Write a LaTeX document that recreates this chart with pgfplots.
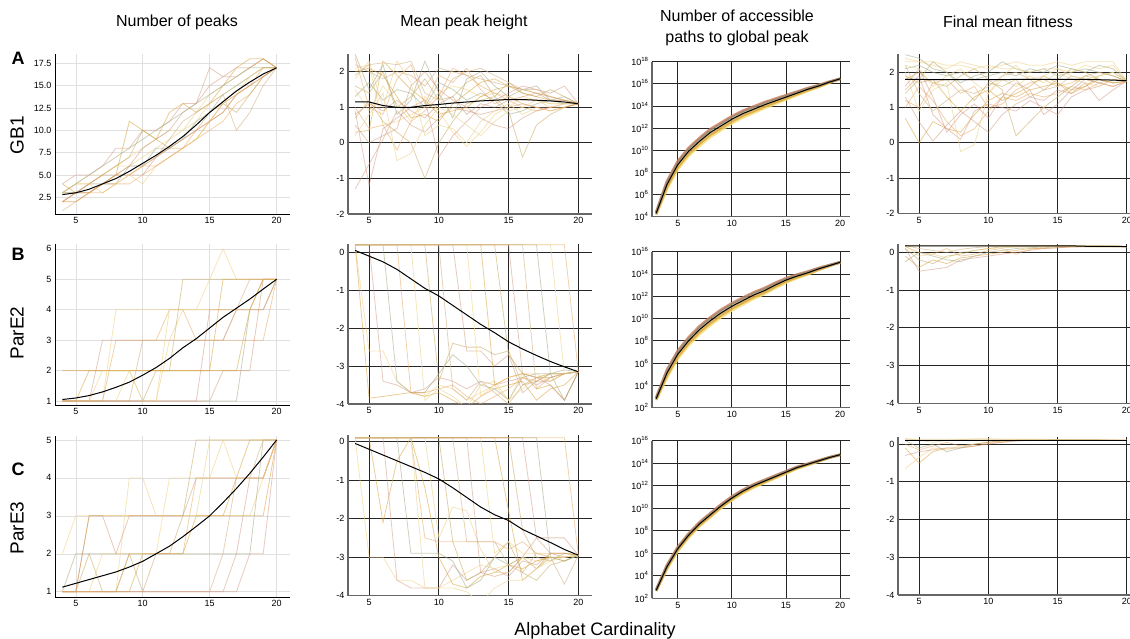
\documentclass[border=0pt]{standalone}
\usepackage{pgfplots}
\usepackage{pgfplotstable}
\pgfplotsset{compat=1.18}
\usepackage{fontspec}
\setmainfont{Liberation Sans}

\definecolor{p1}{HTML}{F2D38A}
\definecolor{p2}{HTML}{D9A441}
\definecolor{p3}{HTML}{D2937F}
\definecolor{p4}{HTML}{A3AA86}
\definecolor{p5}{HTML}{E6A25A}
\definecolor{p6}{HTML}{EDD9A0}
\definecolor{p7}{HTML}{C7AA62}
\definecolor{p8}{HTML}{D6B48A}
\definecolor{p9}{HTML}{C98A6A}

\pgfplotscreateplotcyclelist{faint}{
{p1,line width=0.8pt,opacity=0.6},
{p2,line width=0.8pt,opacity=0.55},
{p3,line width=0.8pt,opacity=0.5},
{p4,line width=0.8pt,opacity=0.55},
{p5,line width=0.8pt,opacity=0.5},
{p6,line width=0.8pt,opacity=0.7},
{p7,line width=0.8pt,opacity=0.55},
{p8,line width=0.8pt,opacity=0.6},
{p9,line width=0.8pt,opacity=0.45}}

\pgfplotsset{
 base/.style={scale only axis, anchor=south west, axis x line=bottom, axis y line=left,
   axis line style={-}, cycle list name=faint,
   tick label style={font=\fontsize{9}{10}\selectfont},
   /pgf/number format/assume math mode=true, major tick length=0pt,
   xtick={5,10,15,20}, enlargelimits=false, grid=major},
 gr/.style={base, major grid style={black!12, line width=0.5pt}, axis line style={black, line width=0.8pt}},
 mat/.style={base, major grid style={black!85, line width=0.9pt}, axis line style={black!60, line width=1.4pt}},
 band/.style={line width=2.6pt, opacity=0.85},
}

% first data row of every table holds the x values; after transposing,
% column 1 is x and columns 2.. are the series
\newcommand{\faintlines}[2]{\pgfplotsinvokeforeach{2,...,#2}{\addplot table[x index=1,y index=##1]{#1};}}

% ---------- Row 1 (GB1) ----------
\pgfplotstableread[header=false]{
4 5 6 7 8 9 10 11 12 13 14 15 16 17 18 19 20
3 4 4 5 6 6 7 8 9 10 11 13 14 15 16 17 17
2 3 3 4 5 5 6 7 8 8 9 11 12 14 15 16 17
4 5 5 6 8 8 10 10 11 13 13 15 16 16 17 18 17
3 3 4 4 4 6 6 8 8 9 11 12 14 15 16 17 17
2 2 3 4 4 5 6 6 7 8 9 10 11 13 14 16 17
3 4 5 5 6 7 8 9 10 10 12 14 15 16 17 18 17
3 3 4 5 6 7 10 9 8 9 10 12 13 12 14 16 17
1 2 3 4 5 6 6 7 9 11 12 13 14 10 12 15 17
2 3 4 5 5 6 8 9 10 12 13 17 16 17 17 18 17
3 4 4 3 4 5 4 6 7 8 9 11 13 14 16 17 17
4 3 3 4 5 11 10 9 12 13 12 13 15 17 18 18 17
2 3 3 4 5 5 5 7 8 9 10 11 12 14 15 16 17
3 4 5 6 7 8 9 10 11 12 13 14 15 16 17 17 17
2 2 3 3 4 4 5 6 7 8 10 11 13 14 15 17 17
}\ra
\pgfplotstabletranspose{\ta}{\ra}

\pgfplotstableread[header=false]{
4 5 6 7 8 9 10 11 12 13 14 15 16 17 18 19 20
2.1 2.2 0.5 0.6 0.8 1.0 1.4 1.6 1.5 1.3 1.4 1.3 1.2 1.2 1.1 1.1 1.1
0.3 0.35 2.3 1.9 1.5 1.2 0.8 0.9 1.0 1.3 1.5 1.6 1.5 1.4 1.3 1.2 1.1
-1.3 -0.6 0.1 0.9 0.5 0.3 0.7 1.0 0.9 0.8 0.9 1.0 1.1 1.0 1.0 1.1 1.1
2.5 1.5 2.2 0.8 1.2 2.3 1.4 0.7 1.8 2.0 1.6 1.3 1.5 1.6 1.2 1.3 1.1
1.0 0.4 0.5 -0.2 0.6 0.9 1.3 2.1 1.9 1.6 1.4 1.2 1.0 0.9 1.0 1.0 1.1
1.8 2.3 1.0 2.3 1.7 0.2 0.5 0.4 0.0 0.6 0.9 1.1 0.8 1.0 0.9 1.0 1.1
0.7 1.2 0.6 0.3 0.0 -1.0 0.0 0.6 1.1 1.2 1.3 0.9 -0.4 0.5 0.8 1.0 1.1
2.2 2.0 1.8 2.0 1.9 1.6 2.1 2.0 1.9 1.8 1.7 1.6 1.5 1.4 1.3 1.2 1.1
0.5 0.0 0.2 0.4 1.6 2.0 1.5 1.2 1.0 0.7 0.5 0.4 0.7 0.9 1.0 1.0 1.1
1.5 0.9 1.6 1.1 0.6 1.3 0.9 0.3 -0.1 0.3 0.8 1.0 1.3 1.2 1.1 1.1 1.1
2.0 2.1 1.9 1.3 0.7 0.8 0.6 1.1 1.4 1.7 1.8 1.6 1.4 1.3 1.2 1.2 1.1
0.9 -1.2 0.4 0.7 1.0 1.2 -0.4 0.2 0.6 1.0 1.2 1.4 1.6 1.5 1.4 1.6 1.1
1.3 1.7 1.2 1.5 1.4 1.0 1.7 1.5 1.2 1.4 1.2 0.8 0.9 1.1 1.2 1.1 1.1
2.4 1.0 0.8 1.8 2.2 1.1 1.9 1.7 2.1 1.5 1.1 1.3 1.1 1.0 0.9 1.0 1.1
0.2 0.8 1.4 -0.5 -0.3 0.5 1.0 0.8 0.5 0.2 0.6 0.9 1.0 1.2 1.0 1.1 1.1
1.6 1.4 2.0 1.0 1.3 1.8 1.2 1.3 1.7 1.9 1.3 1.7 1.4 1.3 1.5 1.3 1.1
1.9 2.2 2.25 2.2 2.3 1.4 1.2 1.8 2.0 2.1 1.9 1.7 1.5 1.5 1.3 1.2 1.1
0.8 1.1 0.9 1.2 0.9 0.7 1.1 1.3 0.8 1.1 1.0 1.2 1.3 1.4 1.2 1.2 1.1
}\rb
\pgfplotstabletranspose{\tb}{\rb}

\pgfplotstableread[header=false]{
3 4 5 6 7 8 9 10 11 12 13 14 15 16 17 18 19 20
4.3 6.9 8.7 9.9 10.8 11.6 12.2 12.8 13.3 13.7 14.1 14.45 14.8 15.15 15.5 15.8 16.15 16.45
4.39 7.2 9.0 10.2 11.1 11.9 12.49 13.07 13.56 13.94 14.33 14.65 14.97 15.29 15.61 15.88 16.19 16.45
4.18 6.5 8.3 9.5 10.4 11.2 11.82 12.44 12.96 13.38 13.8 14.19 14.58 14.97 15.36 15.7 16.1 16.45
4.24 6.7 8.5 9.7 10.6 11.4 12.01 12.62 13.13 13.54 13.95 14.32 14.69 15.06 15.43 15.75 16.13 16.45
4.35 7.05 8.85 10.05 10.95 11.75 12.34 12.94 13.43 13.82 14.21 14.55 14.88 15.22 15.55 15.84 16.17 16.45
}\rc
\pgfplotstabletranspose{\tc}{\rc}

\pgfplotstableread[header=false]{
4 5 6 7 8 9 10 11 12 13 14 15 16 17 18 19 20
2.3 2.3 2.2 2.1 2.3 2.2 2.1 2.2 2.3 2.2 2.2 2.3 2.2 2.3 2.3 2.3 1.75
0.7 0.0 0.6 0.4 0.3 0.8 1.2 1.4 1.3 1.5 1.6 1.7 1.5 1.6 1.8 1.7 1.75
1.5 1.9 0.8 0.4 0.1 0.9 1.1 1.0 0.9 1.2 1.0 0.8 1.3 1.5 1.6 1.8 1.75
2.5 2.4 2.1 2.0 1.7 1.9 2.0 2.3 2.1 2.0 2.1 1.9 2.0 2.1 2.0 1.9 1.75
1.0 1.6 1.2 0.6 0.2 0.4 0.9 1.3 1.2 1.4 1.3 1.4 1.6 1.5 1.7 1.6 1.75
2.0 0.9 1.5 1.7 -0.25 -0.05 1.4 1.8 1.6 1.9 1.7 2.0 1.8 1.7 1.6 1.8 1.75
1.8 2.0 1.7 1.6 1.9 2.1 1.8 1.5 0.2 0.6 1.0 1.3 1.6 1.9 2.0 1.9 1.75
2.2 1.4 0.9 1.2 1.5 1.4 1.6 1.9 2.0 1.8 1.5 1.6 1.9 1.8 1.7 1.8 1.75
1.3 0.6 0.05 0.5 0.9 0.6 0.3 0.8 1.1 1.3 1.2 1.5 1.4 1.7 1.2 1.5 1.75
2.4 2.3 2.3 2.2 2.2 2.1 2.2 2.1 2.1 2.0 2.1 2.1 2.0 2.2 2.1 2.2 1.75
1.9 1.7 1.8 1.3 0.9 1.3 1.5 1.2 1.4 1.6 1.9 1.7 1.4 1.6 1.9 2.0 1.75
1.6 2.1 1.3 0.3 0.8 1.1 0.7 1.3 1.7 1.5 0.8 1.1 1.5 1.8 1.7 1.6 1.75
2.1 2.2 2.0 1.9 2.0 1.8 1.9 2.0 1.9 2.1 2.0 2.2 2.1 2.0 2.2 2.1 1.75
1.2 1.0 1.7 1.8 1.4 1.6 1.0 1.1 1.5 1.7 1.8 1.6 1.7 1.9 1.8 1.7 1.75
2.2 2.1 1.6 1.9 2.1 1.7 1.4 1.9 2.2 1.8 1.9 2.1 1.9 1.8 1.9 2.0 1.75
1.4 1.8 2.3 2.0 1.6 1.2 1.7 1.6 1.8 1.3 1.5 1.8 2.1 2.0 1.8 1.7 1.75
}\rd
\pgfplotstabletranspose{\td}{\rd}

% ---------- Row 2 (ParE2) ----------
\pgfplotstableread[header=false]{
4 5 6 7 8 9 10 11 12 13 14 15 16 17 18 19 20
1 1 1 1 4 4 4 4 4 4 4 5 6 5 5 5 5
2 2 2 2 2 2 2 2 2 2 2 2 5 5 5 5 5
1 1 1 3 3 3 3 3 3 3 3 3 3 4 4 5 5
1 1 1 1 1 1 1 1 1 1 1 1 1 1 4 4 5
1 1 1 1 3 3 3 3 4 4 3 3 3 3 3 3 5
1 1 1 1 1 2 1 1 3 4 4 4 4 4 4 4 5
1 1 1 1 1 1 1 2 2 5 5 5 5 5 5 5 5
1 1 1 1 1 1 3 3 3 3 3 3 3 4 5 5 5
1 1 1 1 1 1 1 1 1 1 1 1 2 2 2 5 5
1 1 1 2 2 2 1 1 4 4 4 4 4 4 4 5 5
1 1 2 2 2 2 2 2 2 2 2 2 2 2 4 5 5
1 1 1 1 1 1 1 1 1 1 1 4 4 4 4 4 5
}\re
\pgfplotstabletranspose{\te}{\re}

\pgfplotstableread[header=false]{
4 5 6 7 8 9 10 11 12 13 14 15 16 17 18 19 20
0.2 -2.6 -2.6 -3.4 -3.7 -3.8 -3.5 -3.6 -3.9 -3.7 -3.5 -3.3 -3.2 -3.3 -3.2 -3.2 -3.15
0.2 -3.85 -3.8 -3.75 -3.7 -3.8 -3.7 -3.9 -4.1 -3.8 -3.6 -3.5 -3.4 -3.9 -3.6 -3.5 -3.15
0.2 0.2 -3.4 -3.5 -3.7 -3.6 -3.3 -3.4 -3.6 -3.4 -3.5 -3.4 -3.3 -3.5 -3.3 -3.2 -3.15
0.2 0.2 0.2 -3.4 -3.7 -3.7 -3.2 -2.7 -3.0 -3.5 -3.6 -3.9 -3.3 -3.2 -3.2 -3.1 -3.15
0.2 0.2 0.2 0.2 -3.7 -3.7 -3.6 -3.5 -3.8 -4.0 -3.8 -3.6 -3.3 -3.4 -3.2 -3.2 -3.15
0.2 0.2 0.2 0.2 0.2 -3.9 -3.6 -3.8 -4.1 -3.5 -3.4 -3.9 -3.6 -3.3 -3.4 -3.2 -3.15
0.2 0.2 0.2 0.2 0.2 0.2 -3.4 -2.4 -2.5 -2.5 -2.7 -2.6 -3.5 -3.4 -3.2 -3.2 -3.15
0.2 0.2 0.2 0.2 0.2 0.2 0.2 -3.6 -3.9 -3.4 -3.7 -4.0 -3.5 -3.3 -3.2 -3.2 -3.15
0.2 0.2 0.2 0.2 0.2 0.2 0.2 0.2 -2.6 -2.6 -3.0 -2.7 -3.7 -3.4 -3.4 -3.2 -3.15
0.2 0.2 0.2 0.2 0.2 0.2 0.2 0.2 0.2 -3.8 -3.5 -3.9 -3.2 -3.2 -3.4 -3.2 -3.15
0.2 0.2 0.2 0.2 0.2 0.2 0.2 0.2 0.2 0.2 -3.5 -3.3 -3.2 -3.6 -3.5 -3.9 -3.15
0.2 0.2 0.2 0.2 0.2 0.2 0.2 0.2 0.2 0.2 0.2 0.2 -3.2 -3.3 -3.5 -3.9 -3.15
0.2 0.2 0.2 0.2 0.2 0.2 0.2 0.2 0.2 0.2 0.2 0.2 0.2 0.2 -3.2 -3.9 -3.15
0.2 0.2 0.2 0.2 0.2 0.2 0.2 0.2 0.2 0.2 0.2 0.2 0.2 0.2 0.2 0.2 -3.15
0.2 0.2 0.2 0.2 0.2 0.2 0.2 0.2 0.2 0.2 0.2 0.2 0.2 0.2 0.2 -3.2 -3.15
0.2 0.2 0.2 0.2 0.2 0.2 0.2 0.2 0.2 0.2 0.2 -2.7 -3.2 -3.3 -3.3 -3.2 -3.15
0.2 0.2 0.2 0.2 0.2 0.2 0.2 0.2 0.2 0.2 0.2 0.2 0.2 -3.6 -3.3 -3.2 -3.15
}\rf
\pgfplotstabletranspose{\tf}{\rf}

\pgfplotstableread[header=false]{
3 4 5 6 7 8 9 10 11 12 13 14 15 16 17 18 19 20
2.8 5.1 6.8 8.0 9.0 9.8 10.5 11.1 11.6 12.1 12.5 13.0 13.45 13.8 14.1 14.45 14.75 15.05
2.89 5.4 7.1 8.3 9.3 10.1 10.79 11.37 11.86 12.34 12.73 13.2 13.62 13.94 14.21 14.53 14.79 15.05
2.68 4.7 6.4 7.6 8.6 9.4 10.12 10.74 11.26 11.78 12.2 12.74 13.23 13.62 13.96 14.35 14.7 15.05
2.74 4.9 6.6 7.8 8.8 9.6 10.31 10.92 11.43 11.94 12.35 12.87 13.34 13.71 14.03 14.4 14.73 15.05
2.85 5.25 6.95 8.15 9.15 9.95 10.64 11.24 11.73 12.22 12.61 13.1 13.53 13.87 14.15 14.49 14.77 15.05
}\rg
\pgfplotstabletranspose{\tg}{\rg}

\pgfplotstableread[header=false]{
4 5 6 7 8 9 10 11 12 13 14 15 16 17 18 19 20
0.18 0.18 0.17 0.18 0.18 0.18 0.18 0.18 0.18 0.18 0.18 0.18 0.18 0.18 0.18 0.18 0.15
-0.1 -0.4 -0.2 -0.3 -0.15 -0.1 -0.05 0.0 0.05 0.1 0.1 0.12 0.15 0.15 0.15 0.15 0.15
0.1 -0.5 -0.45 -0.4 -0.2 -0.15 -0.1 -0.05 0.0 0.05 0.1 0.12 0.14 0.15 0.15 0.15 0.15
-0.25 0.0 -0.1 -0.2 -0.25 -0.1 0.0 0.05 0.1 0.12 0.14 0.15 0.15 0.15 0.15 0.15 0.15
0.15 0.0 -0.05 0.1 -0.1 -0.05 0.05 0.1 -0.05 0.08 0.12 0.15 0.15 0.16 0.15 0.15 0.15
0.18 -0.1 -0.05 -0.15 0.0 0.05 0.1 0.12 0.14 0.16 0.17 0.17 0.17 0.17 0.17 0.16 0.15
0.1 -0.2 -0.3 -0.1 -0.05 0.05 0.1 0.15 0.15 0.15 0.16 0.17 0.17 0.16 0.16 0.15 0.15
0.18 0.1 0.05 0.0 0.08 0.12 0.15 0.16 0.16 0.16 0.17 0.17 0.17 0.16 0.16 0.15 0.15
}\rh
\pgfplotstabletranspose{\th}{\rh}

% ---------- Row 3 (ParE3) ----------
\pgfplotstableread[header=false]{
4 5 6 7 8 9 10 11 12 13 14 15 16 17 18 19 20
2 3 3 3 3 3 3 3 3 3 3 3 3 3 3 4 5
1 1 3 3 3 3 3 3 3 3 3 3 3 3 3 3 5
1 1 1 1 1 1 1 1 1 1 1 1 1 2 4 4 5
1 2 2 2 2 2 2 2 2 2 2 2 2 2 2 5 5
1 1 1 1 1 2 2 2 2 2 4 4 4 4 4 4 5
1 1 1 1 1 4 4 3 3 3 3 5 5 5 5 5 5
1 1 2 1 1 2 1 2 2 3 5 5 5 5 5 5 5
1 1 1 1 1 1 1 1 1 1 1 1 2 4 4 5 5
1 1 3 3 2 3 3 3 3 3 4 4 4 4 4 4 5
1 1 1 2 2 2 2 2 4 4 4 4 5 4 4 4 5
1 1 1 1 1 1 2 2 2 2 3 3 3 4 5 5 5
1 1 1 1 1 1 1 1 1 1 1 1 1 1 2 2 5
}\ri
\pgfplotstabletranspose{\ti}{\ri}

\pgfplotstableread[header=false]{
4 5 6 7 8 9 10 11 12 13 14 15 16 17 18 19 20
0.1 -3.0 -3.0 -3.6 -3.6 -3.8 -3.8 -3.6 -3.4 -3.2 -3.3 -3.2 -3.0 -3.1 -3.0 -3.0 -2.95
0.1 0.1 -2.1 -0.5 0.1 -1.2 -3.0 -3.7 -3.8 -3.5 -3.4 -3.2 -3.3 -3.1 -3.0 -3.1 -2.95
0.1 0.1 0.1 -3.6 -3.8 -3.8 -3.8 -3.2 -3.6 -3.4 -3.3 -3.5 -3.1 -3.2 -2.9 -3.0 -2.95
0.1 0.1 0.1 0.1 -2.9 -2.9 -2.9 -3.1 -3.8 -3.6 -3.0 -3.2 -3.0 -3.3 -3.0 -3.0 -2.95
0.1 0.1 0.1 0.1 0.1 -2.5 -2.6 -2.6 -2.6 -2.6 -2.6 -2.8 -2.6 -2.9 -2.9 -2.9 -2.95
0.1 0.1 0.1 0.1 0.1 0.1 -2.5 -1.7 -1.8 -2.8 -3.4 -3.4 -3.0 -3.3 -3.0 -3.0 -2.95
0.1 0.1 0.1 0.1 0.1 0.1 0.1 -2.6 -3.6 -3.4 -3.0 -2.6 -3.4 -3.6 -3.2 -3.1 -2.95
0.1 0.1 0.1 0.1 0.1 0.1 0.1 0.1 -2.6 -2.6 -2.6 -3.2 -3.4 -2.9 -3.0 -3.7 -2.95
0.1 0.1 0.1 0.1 0.1 0.1 0.1 0.1 0.1 -3.4 -3.5 -3.4 -3.0 -2.5 -2.5 -2.5 -2.95
0.1 0.1 0.1 0.1 0.1 0.1 0.1 0.1 0.1 0.1 -2.9 -2.6 -2.9 -2.9 -3.0 -3.0 -2.95
0.1 0.1 0.1 0.1 0.1 0.1 0.1 0.1 0.1 0.1 0.1 -1.8 -3.6 -3.3 -2.9 -2.9 -2.95
0.1 0.1 0.1 0.1 0.1 0.1 0.1 0.1 0.1 0.1 0.1 0.1 0.1 -2.5 -2.9 -2.9 -2.95
0.1 0.1 0.1 0.1 0.1 0.1 0.1 0.1 0.1 0.1 0.1 0.1 0.1 0.1 -3.0 -3.1 -2.95
0.1 0.1 0.1 0.1 0.1 0.1 0.1 0.1 0.1 0.1 0.1 0.1 0.1 0.1 0.1 0.1 -2.95
0.1 0.1 0.1 0.1 0.1 -3.8 -3.8 -3.8 -3.9 -4.2 -3.8 -3.6 -3.6 -3.3 -3.1 -3.0 -2.95
0.1 0.1 0.1 0.1 0.1 0.1 0.1 0.1 0.1 0.1 0.1 0.1 -2.3 -3.0 -3.1 -2.9 -2.95
}\rj
\pgfplotstabletranspose{\tj}{\rj}

\pgfplotstableread[header=false]{
3 4 5 6 7 8 9 10 11 12 13 14 15 16 17 18 19 20
2.7 4.8 6.4 7.6 8.6 9.4 10.2 10.9 11.5 12.0 12.4 12.8 13.2 13.6 13.9 14.2 14.5 14.75
2.75 4.95 6.55 7.75 8.75 9.55 10.34 11.04 11.63 12.12 12.51 12.9 13.28 13.67 13.95 14.24 14.52 14.75
2.64 4.6 6.2 7.4 8.4 9.2 10.01 10.72 11.33 11.84 12.25 12.67 13.09 13.51 13.83 14.15 14.48 14.75
2.67 4.7 6.3 7.5 8.5 9.3 10.1 10.81 11.42 11.92 12.33 12.74 13.15 13.56 13.87 14.18 14.49 14.75
2.72 4.85 6.45 7.65 8.65 9.45 10.25 10.95 11.55 12.05 12.45 12.85 13.25 13.62 13.92 14.21 14.51 14.75
}\rk
\pgfplotstabletranspose{\tk}{\rk}

\pgfplotstableread[header=false]{
4 5 6 7 8 9 10 11 12 13 14 15 16 17 18 19 20
-0.65 -0.35 -0.1 -0.15 -0.05 0.0 0.05 0.08 0.1 0.1 0.1 0.1 0.1 0.1 0.1 0.1 0.1
-0.1 -0.5 -0.2 -0.1 -0.1 -0.05 0.02 0.05 0.1 0.1 0.1 0.1 0.1 0.1 0.1 0.1 0.1
-0.3 -0.2 -0.15 -0.1 -0.1 -0.05 0.0 0.05 0.08 0.1 0.1 0.1 0.1 0.1 0.1 0.1 0.1
0.1 -0.1 0.0 -0.2 -0.1 0.0 0.05 0.1 0.1 0.1 0.1 0.1 0.1 0.1 0.1 0.1 0.1
0.0 -0.15 -0.05 0.05 -0.05 0.0 0.05 0.08 0.1 0.1 0.1 0.1 0.1 0.1 0.1 0.1 0.1
0.15 0.1 0.05 0.1 0.12 0.14 0.14 0.13 0.13 0.12 0.12 0.12 0.11 0.11 0.11 0.1 0.1
0.13 0.13 0.13 0.13 0.13 0.13 0.13 0.13 0.13 0.13 0.13 0.12 0.12 0.12 0.12 0.11 0.1
}\rl
\pgfplotstabletranspose{\tl}{\rl}

% columns after transposing: 1 = x, 2 = mean, 3 = upper, 4 = lower, 5 = mid-lower, 6 = mid-upper
\newcommand{\bandplots}[1]{%
\addplot[band, color=p1!80!yellow] table[x index=1,y index=4]{#1};
\addplot[band, color=p2] table[x index=1,y index=5]{#1};
\addplot[band, color=p9!90!red] table[x index=1,y index=3]{#1};
\addplot[band, color=p4!80!black, opacity=0.6] table[x index=1,y index=6]{#1};
\addplot[black, line width=1pt] table[x index=1,y index=2]{#1};}

\begin{document}
\begin{tikzpicture}
\path[use as bounding box] (0,0) rectangle (1130pt,639pt);

% ===== Row 1 =====
\begin{axis}[gr, at={(55pt,425pt)}, width=235pt, height=160pt, xmin=3.45, xmax=21, ymin=0.63, ymax=18.54,
  ytick={2.5,5,7.5,10,12.5,15,17.5}, yticklabels={2.5,5.0,7.5,10.0,12.5,15.0,17.5}]
\faintlines{\ta}{15}
\addplot[black, line width=1pt] coordinates {(4,2.8)(5,3.0)(6,3.4)(7,4.0)(8,4.6)(9,5.4)(10,6.3)(11,7.2)(12,8.2)(13,9.3)(14,10.6)(15,12.0)(16,13.2)(17,14.4)(18,15.4)(19,16.3)(20,17.0)};
\end{axis}

\begin{axis}[mat, at={(348pt,425pt)}, width=244pt, height=160pt, xmin=3.49, xmax=20.98, ymin=-2, ymax=2.5,
  ytick={-2,-1,0,1,2}, yticklabels={-2,-1,0,1,2}]
\faintlines{\tb}{19}
\addplot[black, line width=1pt] coordinates {(4,1.15)(5,1.15)(6,1.05)(7,1.0)(8,1.0)(9,1.05)(10,1.08)(11,1.12)(12,1.15)(13,1.18)(14,1.2)(15,1.22)(16,1.22)(17,1.2)(18,1.18)(19,1.15)(20,1.1)};
\end{axis}

\begin{axis}[mat, at={(652pt,422.3pt)}, width=198pt, height=155pt, xmin=2.62, xmax=20.92, ymin=4, ymax=18,
  ytick={4,6,8,10,12,14,16,18},
  yticklabels={10\textsuperscript{4},10\textsuperscript{6},10\textsuperscript{8},10\textsuperscript{10},10\textsuperscript{12},10\textsuperscript{14},10\textsuperscript{16},10\textsuperscript{18}}]
\bandplots{\tc}
\end{axis}

\begin{axis}[mat, at={(898pt,425.7pt)}, width=232pt, height=159.3pt, xmin=3.48, xmax=20.23, ymin=-2, ymax=2.52,
  ytick={-2,-1,0,1,2}, yticklabels={-2,-1,0,1,2}]
\faintlines{\td}{17}
\addplot[black, line width=1pt] coordinates {(4,1.8)(5,1.8)(6,1.79)(7,1.79)(8,1.79)(9,1.79)(10,1.79)(11,1.79)(12,1.8)(13,1.8)(14,1.8)(15,1.8)(16,1.8)(17,1.8)(18,1.79)(19,1.78)(20,1.76)};
\end{axis}

% ===== Row 2 =====
\begin{axis}[gr, at={(55pt,234pt)}, width=235pt, height=161pt, xmin=3.45, xmax=21, ymin=0.87, ymax=6.16,
  ytick={1,2,3,4,5,6}]
\faintlines{\te}{13}
\addplot[black, line width=1pt] coordinates {(4,1.05)(5,1.1)(6,1.18)(7,1.3)(8,1.45)(9,1.62)(10,1.85)(11,2.1)(12,2.4)(13,2.75)(14,3.05)(15,3.4)(16,3.75)(17,4.05)(18,4.35)(19,4.68)(20,5.0)};
\end{axis}

\begin{axis}[mat, at={(348pt,235pt)}, width=244pt, height=160pt, xmin=3.49, xmax=20.98, ymin=-4, ymax=0.22,
  ytick={-4,-3,-2,-1,0}, yticklabels={-4,-3,-2,-1,0}]
\faintlines{\tf}{18}
\addplot[black, line width=1pt] coordinates {(4,0.05)(5,-0.1)(6,-0.25)(7,-0.45)(8,-0.7)(9,-0.95)(10,-1.15)(11,-1.4)(12,-1.65)(13,-1.9)(14,-2.12)(15,-2.36)(16,-2.55)(17,-2.72)(18,-2.88)(19,-3.02)(20,-3.15)};
\end{axis}

\begin{axis}[mat, at={(652pt,231.3pt)}, width=198pt, height=156pt, xmin=2.62, xmax=20.92, ymin=2, ymax=16,
  ytick={2,4,6,8,10,12,14,16},
  yticklabels={10\textsuperscript{2},10\textsuperscript{4},10\textsuperscript{6},10\textsuperscript{8},10\textsuperscript{10},10\textsuperscript{12},10\textsuperscript{14},10\textsuperscript{16}}]
\bandplots{\tg}
\end{axis}

\begin{axis}[mat, at={(898pt,235.7pt)}, width=232pt, height=159.3pt, xmin=3.48, xmax=20.23, ymin=-4, ymax=0.22,
  ytick={-4,-3,-2,-1,0}, yticklabels={-4,-3,-2,-1,0}]
\faintlines{\th}{9}
\addplot[black, line width=1pt] coordinates {(4,0.17)(5,0.17)(6,0.17)(7,0.17)(8,0.17)(9,0.17)(10,0.17)(11,0.17)(12,0.17)(13,0.17)(14,0.17)(15,0.17)(16,0.17)(17,0.16)(18,0.16)(19,0.16)(20,0.15)};
\end{axis}

% ===== Row 3 =====
\begin{axis}[gr, at={(55pt,42pt)}, width=235pt, height=161pt, xmin=3.45, xmax=21, ymin=0.86, ymax=5.105,
  ytick={1,2,3,4,5}]
\faintlines{\ti}{13}
\addplot[black, line width=1pt] coordinates {(4,1.12)(5,1.22)(6,1.32)(7,1.42)(8,1.52)(9,1.65)(10,1.8)(11,2.0)(12,2.2)(13,2.45)(14,2.72)(15,3.0)(16,3.35)(17,3.72)(18,4.12)(19,4.55)(20,5.0)};
\end{axis}

\begin{axis}[mat, at={(348pt,43.3pt)}, width=244pt, height=160.7pt, xmin=3.49, xmax=20.98, ymin=-4, ymax=0.17,
  ytick={-4,-3,-2,-1,0}, yticklabels={-4,-3,-2,-1,0}]
\faintlines{\tj}{17}
\addplot[black, line width=1pt] coordinates {(4,-0.05)(5,-0.2)(6,-0.35)(7,-0.5)(8,-0.65)(9,-0.8)(10,-0.97)(11,-1.2)(12,-1.45)(13,-1.7)(14,-1.9)(15,-2.05)(16,-2.28)(17,-2.45)(18,-2.62)(19,-2.8)(20,-2.95)};
\end{axis}

\begin{axis}[mat, at={(652pt,40.7pt)}, width=198pt, height=157.6pt, xmin=2.62, xmax=20.92, ymin=2, ymax=16,
  ytick={2,4,6,8,10,12,14,16},
  yticklabels={10\textsuperscript{2},10\textsuperscript{4},10\textsuperscript{6},10\textsuperscript{8},10\textsuperscript{10},10\textsuperscript{12},10\textsuperscript{14},10\textsuperscript{16}}]
\bandplots{\tk}
\end{axis}

\begin{axis}[mat, at={(898pt,44pt)}, width=232pt, height=158pt, xmin=3.48, xmax=20.23, ymin=-4, ymax=0.19,
  ytick={-4,-3,-2,-1,0}, yticklabels={-4,-3,-2,-1,0}]
\faintlines{\tl}{8}
\addplot[black, line width=1pt] coordinates {(4,0.1)(5,0.1)(6,0.1)(7,0.1)(8,0.1)(9,0.1)(10,0.1)(11,0.1)(12,0.1)(13,0.1)(14,0.1)(15,0.1)(16,0.1)(17,0.1)(18,0.1)(19,0.1)(20,0.1)};
\end{axis}

% ===== Text =====
\node[font=\fontsize{16}{19}\selectfont] at (177pt,617pt) {Number of peaks};
\node[font=\fontsize{16}{19}\selectfont] at (464pt,617pt) {Mean peak height};
\node[font=\fontsize{16}{21}\selectfont, align=center] at (737pt,611.5pt) {Number of accessible\\paths to global peak};
\node[font=\fontsize{16}{19}\selectfont] at (1008pt,617pt) {Final mean fitness};

\node[rotate=90, font=\fontsize{19}{22}\selectfont] at (17pt,504pt) {GB1};
\node[rotate=90, font=\fontsize{19}{22}\selectfont] at (17pt,306pt) {ParE2};
\node[rotate=90, font=\fontsize{19}{22}\selectfont] at (17pt,111pt) {ParE3};

\node[font=\bfseries\fontsize{18}{20}\selectfont] at (18pt,581pt) {A};
\node[font=\bfseries\fontsize{18}{20}\selectfont] at (18pt,385pt) {B};
\node[font=\bfseries\fontsize{18}{20}\selectfont] at (18pt,170pt) {C};

\node[anchor=base, font=\fontsize{18}{20}\selectfont] at (595pt,3pt) {Alphabet Cardinality};
\end{tikzpicture}
\end{document}
